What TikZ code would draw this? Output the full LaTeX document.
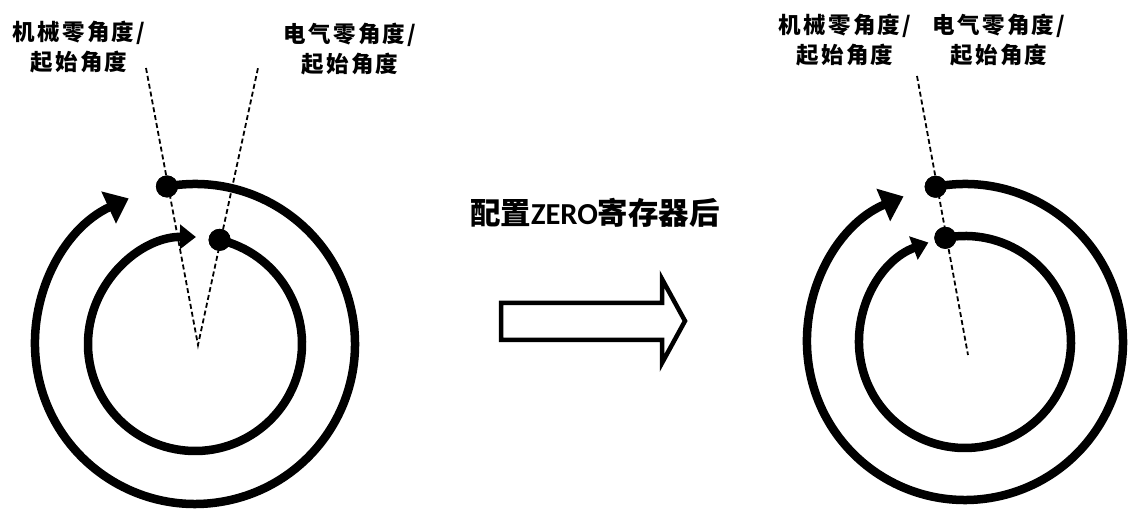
\documentclass[tikz,border=0pt]{standalone}
\usepackage{fontspec}
\newfontfamily\cjk{Noto Sans CJK SC}[LetterSpace=10]
\newfontfamily\cjktitle{Noto Sans CJK SC}
\newfontfamily\lat{Carlito}
\usetikzlibrary{arrows.meta}
\begin{document}
\begin{tikzpicture}[x=1pt,y=1pt,
  ring/.style={line width=8.5pt},
  bigtip/.style={-{Triangle[length=22pt,width=34pt]}},
  smalltip/.style={-{Triangle[length=16pt,width=24pt]}},
  dot/.style={circle,fill=black,inner sep=0pt,minimum size=22pt},
  guide/.style={line width=1.8pt,dash pattern=on 5pt off 3pt},
  lbl/.style={align=center,font=\cjk\bfseries\fontsize{22.5}{30}\selectfont},
  blockarrow/.style={line width=4.5pt,line join=miter,fill=white}
  ]
\useasboundingbox (0,0) rectangle (1128,510);
% ---------- left figure ----------
\coordinate (cL) at (195,166);
\coordinate (apexL) at (198,165);
\coordinate (mTopL) at (146,442);
\coordinate (eTopL) at (258,442);
\draw[guide] (mTopL) -- (apexL) -- (eTopL);
\node[dot] (mL) at ([shift={(100.1:160)}]cL) {};
\node[dot] (eL) at ([shift={(76.7:107)}]cL) {};
\draw[ring,bigtip] (mL.center) arc[start angle=100.1,end angle=-245.5,radius=160];
\draw[ring,smalltip] (eL.center) arc[start angle=76.7,end angle=-270.5,radius=107];
\node[dot] at (mL) {};
\node[dot] at (eL) {};
\node[lbl] (labmL) at (79,463) {机械零角度/\\起始角度};
\node[lbl] (labeL) at (350,461) {电气零角度/\\起始角度};
% ---------- middle ----------
\node (title) at (595,297) {\cjktitle\bfseries\fontsize{30.5}{34}\selectfont 配置{\lat\bfseries ZERO}寄存器后};
\draw[blockarrow] (501,207) -- (662,207) -- (662,231) -- (685,189) -- (662,147) -- (662,170) -- (501,170) -- cycle;
% ---------- right figure ----------
\coordinate (cR) at (965,168);
\coordinate (apexR) at (968,155);
\coordinate (topR) at (917,434);
\draw[guide] (topR) -- (apexR);
\node[dot] (mR) at ([shift={(100.7:158)}]cR) {};
\node[dot] (eR) at ([shift={(100.7:106)}]cR) {};
\draw[ring,bigtip] (mR.center) arc[start angle=100.7,end angle=-247.1,radius=158];
\draw[ring,smalltip] (eR.center) arc[start angle=100.7,end angle=-249.8,radius=106];
\node[dot] at (mR) {};
\node[dot] at (eR) {};
\node[lbl] (labmR) at (845,470) {机械零角度/\\起始角度};
\node[lbl] (labeR) at (999,470) {电气零角度/\\起始角度};
\end{tikzpicture}
\end{document}
